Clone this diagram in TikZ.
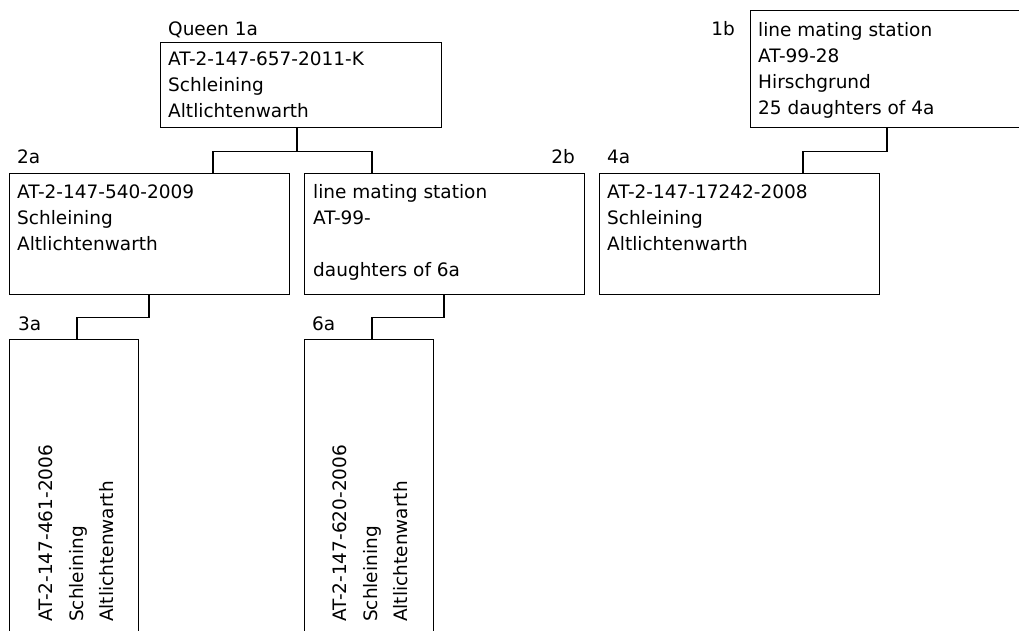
\documentclass[tikz,border=0pt]{standalone}
\usepackage{fontspec}
\setmainfont{DejaVu Sans}
\usetikzlibrary{calc}
\tikzset{
  box/.style={draw=black, line width=1.2pt, inner sep=0pt, anchor=north west, rectangle},
  txt/.style={inner sep=0pt, anchor=north west, align=left, font=\fontsize{18.5}{26}\selectfont},
  vtxt/.style={inner sep=0pt, anchor=north west, align=left, rotate=90, font=\fontsize{18.5}{30.5}\selectfont},
  lab/.style={inner sep=0pt, font=\fontsize{18.5}{26}\selectfont},
  conn/.style={draw=black, line width=1.2pt}
}
\begin{document}
\begin{tikzpicture}[x=1pt, y=-1pt]
\useasboundingbox (0,0) rectangle (1019,630);
\clip (0,0) rectangle (1019,630);
% boxes
\node[box, minimum width=281pt, minimum height=85pt] (q) at (160,42) {};
\node[box, minimum width=280pt, minimum height=117pt] (b1) at (750,10) {};
\node[box, minimum width=280pt, minimum height=121pt] (a2) at (9,173) {};
\node[box, minimum width=280pt, minimum height=121pt] (b2) at (304,173) {};
\node[box, minimum width=280pt, minimum height=121pt] (a4) at (599,173) {};
\node[box, minimum width=129pt, minimum height=400pt] (a3) at (9,339) {};
\node[box, minimum width=129pt, minimum height=400pt] (a6) at (304,339) {};
% texts
\node[txt] (tq) at (168,51.5) {AT-2-147-657-2011-K\\Schleining\\Altlichtenwarth};
\node[txt] (tb1) at (758,22) {line mating station\\AT-99-28\\Hirschgrund\\25 daughters of 4a};
\node[txt] (ta2) at (17,184.5) {AT-2-147-540-2009\\Schleining\\Altlichtenwarth};
\node[txt] (tb2) at (313,184) {line mating station\\AT-99-\\{}\\daughters of 6a};
\node[txt] (ta4) at (607,184.5) {AT-2-147-17242-2008\\Schleining\\Altlichtenwarth};
\node[vtxt] (ta3) at (39,622) {AT-2-147-461-2006\\Schleining\\Altlichtenwarth};
\node[vtxt] (ta6) at (333,622) {AT-2-147-620-2006\\Schleining\\Altlichtenwarth};
% labels
\node[lab, anchor=base west] (lq) at (168,35) {Queen 1a};
\node[lab, anchor=base east] (lb1) at (735,35) {1b};
\node[lab, anchor=base west] (la2) at (17,163) {2a};
\node[lab, anchor=base east] (lb2) at (575,163) {2b};
\node[lab, anchor=base west] (la4) at (607,163) {4a};
\node[lab, anchor=base west] (la3) at (18,330) {3a};
\node[lab, anchor=base west] (la6) at (312,330) {6a};
% connectors
\coordinate (qj) at ($(q.south west)+(137,23)$);
\draw[conn] ($(q.south west)+(137,0)$) -- (qj);
\draw[conn] ($(a2.north west)+(204,0)$) |- (qj) -| ($(b2.north west)+(68,0)$);
\coordinate (bj) at ($(b1.south west)+(137,23)$);
\draw[conn] ($(b1.south west)+(137,0)$) -- (bj) -| ($(a4.north west)+(204,0)$);
\coordinate (aj) at ($(a2.south west)+(140,22)$);
\draw[conn] ($(a2.south west)+(140,0)$) -- (aj) -| ($(a3.north west)+(68,0)$);
\coordinate (cj) at ($(b2.south west)+(140,22)$);
\draw[conn] ($(b2.south west)+(140,0)$) -- (cj) -| ($(a6.north west)+(68,0)$);
\end{tikzpicture}
\end{document}
